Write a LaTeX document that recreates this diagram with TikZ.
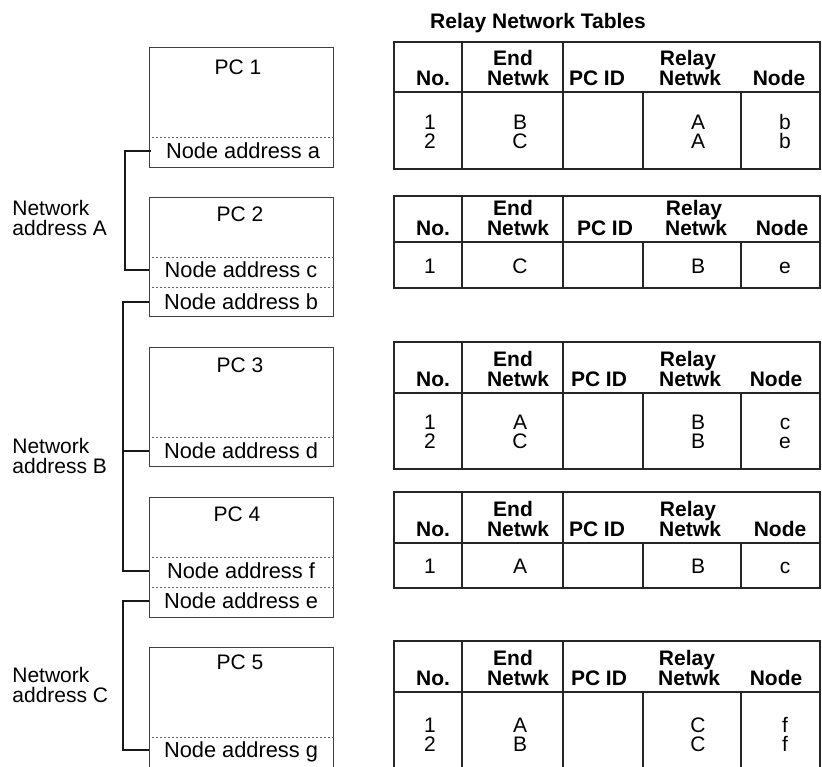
\documentclass[tikz,border=0pt]{standalone}
\usepackage{fontspec}
\setmainfont{Liberation Sans}
\usetikzlibrary{positioning}

% one relay table frame: top, header bottom, bottom
\newcommand\rtab[3]{%
  \draw[tline] (394,#1) rectangle (820,#3);
  \draw[tline] (394,#2) -- (820,#2);
  \draw[tline] (462,#1) -- (462,#3);
  \draw[tline] (563,#1) -- (563,#3);
  \draw[tline] (643,#2) -- (643,#3);
  \draw[tline] (741,#2) -- (741,#3);}
% header texts: prefix, header bottom, PC ID x, Relay x, Node x
\newcommand\rhead[5]{%
  \node[hd] (#1no)  at (433,#2-14) {No.};
  \node[hd] (#1end) at (513,#2-34) {End};
  \node[hd] (#1ntw) at (518,#2-14) {Netwk};
  \node[hd] (#1pc)  at (#3,#2-14)  {PC ID};
  \node[hd] (#1rly) at (#4,#2-34)  {Relay};
  \node[hd] (#1rnw) at (#4+2,#2-14) {Netwk};
  \node[hd] (#1nd)  at (#5,#2-14)  {Node};}
% one table row: prefix, y, No., End Netwk, Relay Netwk, Node
\newcommand\rrow[6]{%
  \node[cell] (#1a) at (430,#2) {#3};
  \node[cell] (#1b) at (520,#2) {#4};
  \node[cell] (#1c) at (698,#2) {#5};
  \node[cell] (#1d) at (785,#2) {#6};}

\begin{document}
\begin{tikzpicture}[
  x=0.5pt, y=-0.5pt,
  font=\fontsize{10.5}{10}\selectfont,
  pcbox/.style={rectangle, draw=black!75, line width=0.5pt, minimum width=92pt, inner sep=0pt},
  pcname/.style={inner sep=0pt, text height=7.5pt, text depth=0pt},
  adr/.style={minimum width=92pt, inner sep=0pt, font=\fontsize{10.9}{12}\selectfont, text height=7.8pt, text depth=0pt},
  sep/.style={draw=black!60, line width=0.5pt, dash pattern=on 0.8pt off 1.2pt},
  bus/.style={line width=1pt, black!90},
  netlbl/.style={anchor=west, align=left, inner sep=0pt},
  tline/.style={black!85, line width=0.6pt},
  hd/.style={font=\fontsize{10.5}{10}\selectfont\bfseries, inner sep=0pt, text height=7.5pt, text depth=0pt},
  cell/.style={inner sep=0pt, text height=7.5pt, text depth=0pt}
]
\clip (0,0) rectangle (822,766);

% PC boxes
\node[pcbox, minimum height=60pt]   (pc1) at (241,107)   {};
\node[pcbox, minimum height=59.5pt] (pc2) at (241,256.5) {};
\node[pcbox, minimum height=59.5pt] (pc3) at (241,406.5) {};
\node[pcbox, minimum height=60pt]   (pc4) at (241,557)   {};
\node[pcbox, minimum height=76.5pt] (pc5) at (241,723.5) {};
\node[pcname] (pc1n) at (238,66.5) {PC 1};
\node[pcname] (pc2n) at (240,213.5) {PC 2};
\node[pcname] (pc3n) at (240,364.5) {PC 3};
\node[pcname] (pc4n) at (237,514)   {PC 4};
\node[pcname] (pc5n) at (240,662)   {PC 5};
\draw[sep] (152,137) -- (333,137);
\draw[sep] (152,257) -- (333,257);
\draw[sep] (152,287) -- (333,287);
\draw[sep] (152,437) -- (333,437);
\draw[sep] (152,557) -- (333,557);
\draw[sep] (152,587) -- (333,587);
\draw[sep] (152,737) -- (333,737);
\node[adr] (adra) at (243,151)   {Node address a};
\node[adr] (adrc) at (241,270)   {Node address c};
\node[adr] (adrb) at (241,302)   {Node address b};
\node[adr] (adrd) at (241,451)   {Node address d};
\node[adr] (adrf) at (241,571)   {Node address f};
\node[adr] (adre) at (241,601)   {Node address e};
\node[adr] (adrg) at (241,750)   {Node address g};

% networks
\draw[bus] (adra.west) -- ++(-26,0) |- (adrc.west);
\draw[bus] (adrb.west) -- ++(-26,0) |- (adrf.west);
\draw[bus] (adrd.west) -- ++(-26,0);
\draw[bus] (adre.west) -- ++(-26,0) |- (adrg.west);
\node[netlbl] (netA) at (12,218) {Network\\address A};
\node[netlbl] (netB) at (12,456) {Network\\address B};
\node[netlbl] (netC) at (12,685) {Network\\address C};

% relay network tables
\node[hd] (title) at (538,21) {Relay Network Tables};
\rtab{42}{92}{169}
\rhead{t1}{92}{597}{688}{779}
\rrow{t1r1}{122}{1}{B}{A}{b}
\rrow{t1r2}{141}{2}{C}{A}{b}
\rtab{196}{242}{288}
\rhead{t2}{242}{605}{694}{782}
\rrow{t2r1}{266}{1}{C}{B}{e}
\rtab{342}{393}{469}
\rhead{t3}{393}{599}{688}{776}
\rrow{t3r1}{422}{1}{A}{B}{c}
\rrow{t3r2}{441}{2}{C}{B}{e}
\rtab{492}{543}{588}
\rhead{t4}{543}{597}{688}{780}
\rrow{t4r1}{566}{1}{A}{B}{c}
\rtab{641}{692}{800}
\rhead{t5}{692}{599}{687}{776}
\rrow{t5r1}{725}{1}{A}{C}{f}
\rrow{t5r2}{744}{2}{B}{C}{f}
\end{tikzpicture}
\end{document}
